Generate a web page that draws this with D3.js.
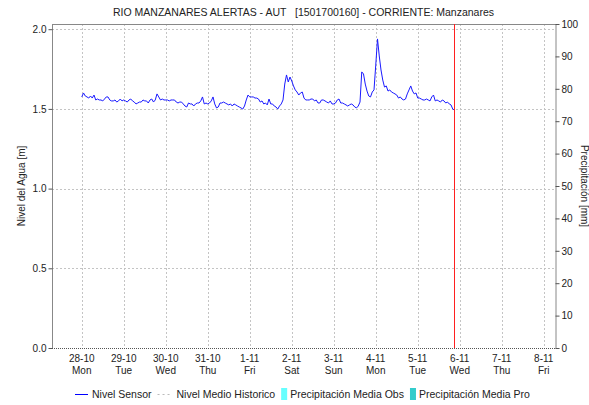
<!DOCTYPE html>
<html>
<head>
<meta charset="utf-8">
<script src="https://cdn.jsdelivr.net/npm/d3@7"></script>
<style>
  body { margin: 0; background: #fff; }
  text { font-family: "Liberation Sans", Arial, sans-serif; fill: #222; }
</style>
</head>
<body>
<div id="chart"></div>
<script>
// Nivel sensor, hourly readings from 28-10 00:00 (one row per day)
const seriesStart = new Date(2024, 9, 28, 0, 0);
const stepHours = 1;
const nivelSensor = [
  1.575, 1.600, 1.581, 1.575, 1.568, 1.581, 1.568, 1.587, 1.556, 1.562, 1.556, 1.556, 1.550, 1.562, 1.575, 1.575, 1.556, 1.550, 1.550, 1.556, 1.543, 1.550, 1.562, 1.550,
  1.556, 1.550, 1.543, 1.556, 1.562, 1.550, 1.543, 1.531, 1.537, 1.543, 1.543, 1.556, 1.550, 1.550, 1.537, 1.556, 1.562, 1.543, 1.556, 1.594, 1.575, 1.556, 1.562, 1.556,
  1.556, 1.556, 1.550, 1.556, 1.556, 1.556, 1.543, 1.537, 1.543, 1.543, 1.531, 1.518, 1.512, 1.537, 1.531, 1.531, 1.518, 1.531, 1.537, 1.537, 1.550, 1.575, 1.531, 1.537,
  1.531, 1.537, 1.550, 1.575, 1.531, 1.506, 1.512, 1.537, 1.537, 1.543, 1.537, 1.531, 1.525, 1.531, 1.518, 1.531, 1.525, 1.518, 1.512, 1.506, 1.499, 1.518, 1.556, 1.587,
  1.575, 1.575, 1.575, 1.568, 1.568, 1.562, 1.543, 1.550, 1.531, 1.537, 1.525, 1.562, 1.531, 1.531, 1.518, 1.512, 1.499, 1.518, 1.531, 1.556, 1.656, 1.713, 1.669, 1.700,
  1.675, 1.644, 1.619, 1.606, 1.587, 1.600, 1.606, 1.568, 1.556, 1.556, 1.556, 1.562, 1.562, 1.550, 1.556, 1.537, 1.537, 1.556, 1.556, 1.550, 1.543, 1.537, 1.550, 1.531,
  1.531, 1.537, 1.556, 1.562, 1.537, 1.537, 1.531, 1.525, 1.518, 1.525, 1.531, 1.525, 1.512, 1.506, 1.518, 1.543, 1.732, 1.719, 1.656, 1.612, 1.581, 1.575, 1.606, 1.619,
  1.775, 1.939, 1.832, 1.744, 1.681, 1.637, 1.644, 1.612, 1.619, 1.606, 1.600, 1.594, 1.587, 1.568, 1.575, 1.562, 1.556, 1.562, 1.594, 1.619, 1.644, 1.612, 1.594, 1.600,
  1.568, 1.568, 1.562, 1.556, 1.556, 1.562, 1.556, 1.550, 1.575, 1.587, 1.550, 1.556, 1.550, 1.543, 1.556, 1.550, 1.537, 1.543, 1.531, 1.525, 1.499, 1.493
];
const nowTime = new Date(2024, 10, 5, 21, 0);
const domainStart = new Date(2024, 9, 27, 7, 0);
const domainEnd = new Date(2024, 10, 8, 7, 0);
const levelTicks = [0, 0.5, 1.0, 1.5, 2.0];
const precipTicks = [0, 10, 20, 30, 40, 50, 60, 70, 80, 90, 100];
const dayNames = ["Sun", "Mon", "Tue", "Wed", "Thu", "Fri", "Sat"];
const legendItems = [
  { label: "Nivel Sensor", kind: "line", color: "#0000ff" },
  { label: "Nivel Medio Historico", kind: "dash", color: "#bbbbbb" },
  { label: "Precipitación Media Obs", kind: "box", color: "#66ffff" },
  { label: "Precipitación Media Pro", kind: "box", color: "#33cccc" }
];

const W = 589, H = 405;
const pL = 52, pR = 556, pT = 24, pB = 348;

const svg = d3.select("#chart").append("svg")
  .attr("width", W).attr("height", H);

const x = d3.scaleTime().domain([domainStart, domainEnd]).range([pL, pR]);
const y = d3.scaleLinear().domain([0, (pB - pT) / ((pB - 29.2) / 2)]).range([pB, pT]);
const y2 = d3.scaleLinear().domain([0, 100]).range([pB, pT]);

const days = d3.timeDay.range(new Date(2024, 9, 28), new Date(2024, 10, 9));

// Grid
svg.append("g").selectAll("line").data(days).join("line")
  .attr("x1", d => Math.round(x(d)) + 0.5).attr("x2", d => Math.round(x(d)) + 0.5)
  .attr("y1", pT).attr("y2", pB)
  .attr("stroke", "#c4c4c4").attr("stroke-dasharray", "2,2");

svg.append("g").selectAll("line").data(levelTicks.filter(d => d > 0)).join("line")
  .attr("x1", pL).attr("x2", pR)
  .attr("y1", d => Math.round(y(d)) + 0.5).attr("y2", d => Math.round(y(d)) + 0.5)
  .attr("stroke", "#c4c4c4").attr("stroke-dasharray", "2,2");

// Frame
svg.append("line").attr("x1", pL).attr("x2", pR).attr("y1", pT + 0.5).attr("y2", pT + 0.5)
  .attr("stroke", "#888");
svg.append("line").attr("x1", pL).attr("x2", pR).attr("y1", pB + 0.5).attr("y2", pB + 0.5)
  .attr("stroke", "#555").attr("stroke-dasharray", "1,1");

// Left axis
const yAxis = d3.axisLeft(y).tickValues(levelTicks).tickFormat(d3.format(".1f")).tickSize(4).tickSizeOuter(0);
const gy = svg.append("g").attr("transform", `translate(${pL + 0.5},0)`).call(yAxis);
gy.select(".domain").attr("stroke", "#888").attr("d", `M0,${pT}V${pB}`);
gy.selectAll(".tick line").attr("stroke", "#555");
gy.selectAll(".tick text").attr("font-size", 10).attr("font-family", "Liberation Sans, Arial, sans-serif").attr("fill", "#222").attr("x", -6);

// Right axis
const y2Axis = d3.axisRight(y2).tickValues(precipTicks).tickSize(4).tickSizeOuter(0);
const gy2 = svg.append("g").attr("transform", `translate(${pR - 0.5},0)`).call(y2Axis);
gy2.select(".domain").attr("stroke", "#888");
gy2.selectAll(".tick line").attr("stroke", "#555");
gy2.selectAll(".tick text").attr("font-size", 10).attr("font-family", "Liberation Sans, Arial, sans-serif").attr("fill", "#222").attr("x", 6);

// X labels
const xl = svg.append("g").selectAll("g").data(days).join("g")
  .attr("transform", d => `translate(${x(d)},0)`);
xl.append("text").attr("y", 362).attr("text-anchor", "middle").attr("font-size", 10)
  .text(d => `${d.getDate()}-${d.getMonth() + 1}`);
xl.append("text").attr("y", 374).attr("text-anchor", "middle").attr("font-size", 10)
  .text(d => dayNames[d.getDay()]);

// Series
const pts = nivelSensor.map((v, i) => ({ t: d3.timeHour.offset(seriesStart, i * stepHours), v }));
svg.append("path").datum(pts)
  .attr("fill", "none").attr("stroke", "#1a1aff").attr("stroke-width", 1)
  .attr("d", d3.line().x(d => x(d.t)).y(d => y(d.v)));

// Now marker
svg.append("line").attr("x1", x(nowTime)).attr("x2", x(nowTime)).attr("y1", pT).attr("y2", pB)
  .attr("stroke", "#ff2020").attr("stroke-width", 1);

// Titles
svg.append("text").attr("x", 303.5).attr("y", 16).attr("text-anchor", "middle")
  .attr("font-size", 10.5).style("white-space", "pre").attr("fill", "#222")
  .text("RIO MANZANARES ALERTAS - AUT   [1501700160] - CORRIENTE: Manzanares");
svg.append("text").attr("transform", `translate(25,${(pT + pB) / 2}) rotate(-90)`)
  .attr("text-anchor", "middle").attr("font-size", 10).text("Nivel del Agua [m]");
svg.append("text").attr("transform", `translate(581,${(pT + pB) / 2}) rotate(90)`)
  .attr("text-anchor", "middle").attr("font-size", 10).text("Precipitación [mm]");

// Legend
const lg = svg.append("g").attr("transform", "translate(75,394)");
let lx = 0;
legendItems.forEach(it => {
  if (it.kind === "line") {
    lg.append("line").attr("x1", lx).attr("x2", lx + 13).attr("y1", 0.5).attr("y2", 0.5).attr("stroke", it.color);
    lx += 17;
  } else if (it.kind === "dash") {
    lg.append("line").attr("x1", lx).attr("x2", lx + 14).attr("y1", 0.5).attr("y2", 0.5)
      .attr("stroke", it.color).attr("stroke-dasharray", "2,3");
    lx += 19;
  } else {
    lg.append("rect").attr("x", lx).attr("y", -6).attr("width", 6).attr("height", 12).attr("fill", it.color);
    lx += 9;
  }
  const t = lg.append("text").attr("x", lx).attr("y", 4).attr("font-size", 10.5).text(it.label);
  lx += t.node().getComputedTextLength() + 6;
});
</script>
</body>
</html>
